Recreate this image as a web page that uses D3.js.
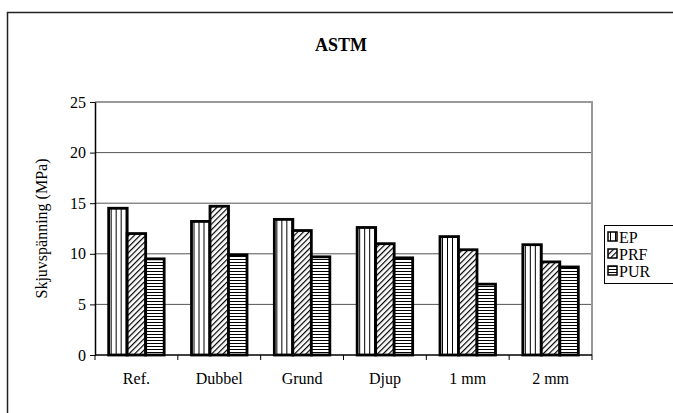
<!DOCTYPE html>
<html>
<head>
<meta charset="utf-8">
<script src="https://d3js.org/d3.v7.min.js"></script>
<style>
  body { margin: 0; background: #fff; }
  svg text { font-family: "Liberation Serif", "Times New Roman", "DejaVu Serif", serif; }
</style>
</head>
<body>
<div id="chart"></div>
<script>
// Data
const categories = ['Ref.', 'Dubbel', 'Grund', 'Djup', '1 mm', '2 mm'];
const seriesNames = ['EP', 'PRF', 'PUR'];
const epValues = [14.5, 13.2, 13.4, 12.6, 11.7, 10.9];
const prfValues = [12.0, 14.7, 12.3, 11.0, 10.4, 9.2];
const purValues = [9.5, 9.9, 9.7, 9.6, 7.0, 8.7];
const yTicks = [0, 5, 10, 15, 20, 25];

const seriesValues = [epValues, prfValues, purValues];
const patterns = ['pat-vert', 'pat-diag', 'pat-horiz'];
const serif = '"Liberation Serif", "Times New Roman", serif';

const width = 673;
const height = 413;
const plot = {left: 95, right: 592, top: 102, bottom: 355};

const svg = d3.select('#chart').append('svg')
  .attr('width', width)
  .attr('height', height)
  .attr('font-family', serif);

// Fill patterns
const defs = svg.append('defs');

const vert = defs.append('pattern')
  .attr('id', 'pat-vert')
  .attr('patternUnits', 'userSpaceOnUse')
  .attr('width', 5).attr('height', 5);
vert.append('rect').attr('width', 5).attr('height', 5).attr('fill', '#fff');
vert.append('line').attr('x1', 2.5).attr('y1', 0).attr('x2', 2.5).attr('y2', 5)
  .attr('stroke', '#000').attr('stroke-width', 1);

const diag = defs.append('pattern')
  .attr('id', 'pat-diag')
  .attr('patternUnits', 'userSpaceOnUse')
  .attr('width', 4).attr('height', 4)
  .attr('patternTransform', 'rotate(45)');
diag.append('rect').attr('width', 4).attr('height', 4).attr('fill', '#fff');
diag.append('line').attr('x1', 0).attr('y1', 0).attr('x2', 0).attr('y2', 4)
  .attr('stroke', '#000').attr('stroke-width', 2.4);

const horiz = defs.append('pattern')
  .attr('id', 'pat-horiz')
  .attr('patternUnits', 'userSpaceOnUse')
  .attr('width', 3).attr('height', 3);
horiz.append('rect').attr('width', 3).attr('height', 3).attr('fill', '#fff');
horiz.append('line').attr('x1', 0).attr('y1', 1.5).attr('x2', 3).attr('y2', 1.5)
  .attr('stroke', '#000').attr('stroke-width', 1);

// Outer chart border (runs off the right and bottom edge)
svg.append('rect')
  .attr('x', 7.5).attr('y', 12.5)
  .attr('width', 720).attr('height', 500)
  .attr('fill', 'none')
  .attr('stroke', '#222')
  .attr('stroke-width', 1.5);

// Title
svg.append('text')
  .attr('x', 341)
  .attr('y', 51)
  .attr('text-anchor', 'middle')
  .attr('font-family', serif)
  .attr('font-size', '18px')
  .attr('font-weight', 'bold')
  .text('ASTM');

// Scales
const x0 = d3.scaleBand()
  .domain(categories)
  .range([plot.left, plot.right])
  .paddingInner(0.33)
  .paddingOuter(0.165);

const x1 = d3.scaleBand()
  .domain(seriesNames)
  .range([0, x0.bandwidth()]);

const y = d3.scaleLinear()
  .domain([0, 25])
  .range([plot.bottom, plot.top]);

// Gridlines
svg.append('g')
  .selectAll('line')
  .data(yTicks.filter(d => d > 0 && d < 25))
  .enter().append('line')
  .attr('x1', plot.left)
  .attr('x2', plot.right)
  .attr('y1', d => y(d))
  .attr('y2', d => y(d))
  .attr('stroke', '#555')
  .attr('stroke-width', 1);

// Plot area border top and right (gray)
svg.append('path')
  .attr('d', `M${plot.left},${plot.top}H${plot.right}V${plot.bottom}`)
  .attr('fill', 'none')
  .attr('stroke', '#999')
  .attr('stroke-width', 2);

// Bars
const groups = svg.append('g')
  .selectAll('g')
  .data(categories)
  .enter().append('g')
  .attr('transform', d => `translate(${x0(d)},0)`);

groups.selectAll('rect')
  .data((d, i) => seriesNames.map((s, k) => ({series: s, value: seriesValues[k][i], k})))
  .enter().append('rect')
  .attr('x', d => x1(d.series))
  .attr('y', d => y(d.value))
  .attr('width', x1.bandwidth())
  .attr('height', d => y(0) - y(d.value))
  .attr('fill', d => `url(#${patterns[d.k]})`)
  .attr('stroke', '#000')
  .attr('stroke-width', 2.8);

// Y axis
const yAxis = svg.append('g')
  .attr('transform', `translate(${plot.left},0)`)
  .call(d3.axisLeft(y).tickValues(yTicks).tickSize(5).tickSizeOuter(0))
  .attr('font-family', serif)
  .attr('font-size', 16);
yAxis.select('.domain').attr('stroke', '#000').attr('stroke-width', 1.5);
yAxis.selectAll('line').attr('stroke', '#000');
yAxis.selectAll('text')
  .attr('fill', '#000')
  .attr('x', -9);

// X axis with ticks at category boundaries
const xAxisG = svg.append('g')
  .attr('transform', `translate(0,${plot.bottom})`);
xAxisG.append('line')
  .attr('x1', plot.left).attr('x2', plot.right)
  .attr('stroke', '#000').attr('stroke-width', 1.5);
const boundaries = categories.map(c => x0(c) - x0.step() * x0.paddingOuter())
  .concat([plot.right]);
xAxisG.selectAll('.tick')
  .data(boundaries)
  .enter().append('line')
  .attr('x1', d => d).attr('x2', d => d)
  .attr('y1', 0).attr('y2', 5)
  .attr('stroke', '#000');
xAxisG.selectAll('.label')
  .data(categories)
  .enter().append('text')
  .attr('x', d => x0(d) + x0.bandwidth() / 2)
  .attr('y', 29)
  .attr('text-anchor', 'middle')
  .attr('font-family', serif)
  .attr('font-size', '16px')
  .text(d => d);

// Y axis title
svg.append('text')
  .attr('transform', `translate(47,${(plot.top + plot.bottom) / 2}) rotate(-90)`)
  .attr('text-anchor', 'middle')
  .attr('font-family', serif)
  .attr('font-size', '16px')
  .text('Skjuvspänning (MPa)');

// Legend
const legend = svg.append('g');
legend.append('rect')
  .attr('x', 604.5).attr('y', 225.5)
  .attr('width', 100).attr('height', 58)
  .attr('fill', '#fff')
  .attr('stroke', '#000')
  .attr('stroke-width', 1);

const items = legend.selectAll('g.item')
  .data(seriesNames)
  .enter().append('g')
  .attr('transform', (d, i) => `translate(608,${237 + i * 17})`);
items.append('rect')
  .attr('x', 0).attr('y', -5)
  .attr('width', 9).attr('height', 9)
  .attr('fill', (d, i) => `url(#${patterns[i]})`)
  .attr('stroke', '#000')
  .attr('stroke-width', 1.5);
items.append('text')
  .attr('x', 11)
  .attr('y', 5.5)
  .attr('font-family', serif)
  .attr('font-size', '16px')
  .text(d => d);
</script>
</body>
</html>
